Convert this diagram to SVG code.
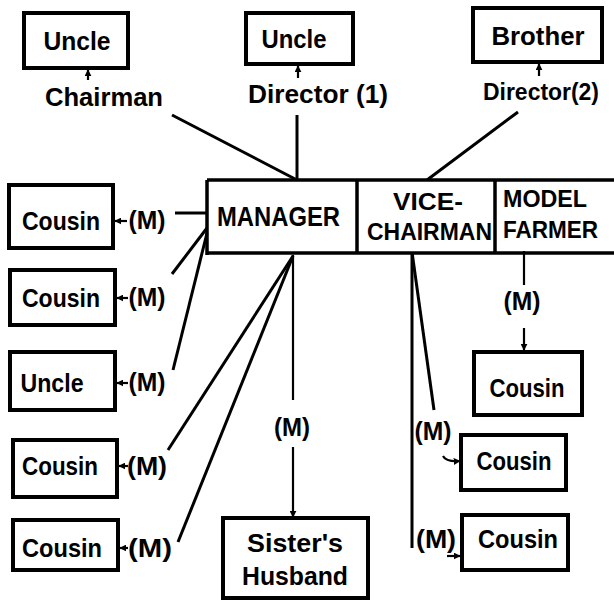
<svg xmlns="http://www.w3.org/2000/svg" width="614" height="601" viewBox="0 0 614 601">
<defs>
<marker id="ah" viewBox="0 0 10 10" refX="9" refY="5" markerWidth="7" markerHeight="7" markerUnits="userSpaceOnUse" orient="auto">
<path d="M0,0 L10,5 L0,10 z" fill="#000"/>
</marker>
</defs>
<style>
.box{fill:#fff;stroke:#000;stroke-width:4}
.bar{fill:none;stroke:#000;stroke-width:3.5}
.t{font-family:"Liberation Sans",Arial,sans-serif;font-weight:bold;font-size:26px;fill:#000;text-anchor:middle}
.tl{font-family:"Liberation Sans",Arial,sans-serif;font-weight:bold;font-size:23px;fill:#000}
.tm{font-size:27px}
.m{font-family:"Liberation Sans",Arial,sans-serif;font-weight:bold;font-size:25px;fill:#000;text-anchor:middle}
.ln{fill:none;stroke:#000;stroke-width:3}
.thin{fill:none;stroke:#000;stroke-width:2.2}
.ar{fill:none;stroke:#000;stroke-width:2.2;marker-end:url(#ah)}
</style>
<rect width="614" height="601" fill="#fff"/>

<g id="connectors">
<line class="ln" x1="172" y1="115" x2="297" y2="180"/>
<line class="ln" x1="297" y1="115" x2="297" y2="180"/>
<line class="ln" x1="518" y1="112" x2="427" y2="180"/>
<line class="ar" x1="88" y1="80" x2="88" y2="70"/>
<line class="ar" x1="298" y1="78" x2="298" y2="66"/>
<line class="ar" x1="539" y1="76" x2="539" y2="64"/>
<line class="ln" x1="175" y1="213" x2="207" y2="213"/>
<line class="ln" x1="172" y1="274" x2="207" y2="228"/>
<line class="ln" x1="173" y1="370" x2="207" y2="233"/>
<line class="ln" x1="168" y1="450" x2="293" y2="256"/>
<line class="ln" x1="178" y1="542" x2="293" y2="256"/>
<line class="ar" x1="127" y1="221" x2="115" y2="221"/>
<line class="ar" x1="128" y1="298" x2="117" y2="298"/>
<line class="ar" x1="128" y1="383" x2="117" y2="383"/>
<line class="ar" x1="128" y1="466" x2="119" y2="466"/>
<line class="ar" x1="128" y1="548" x2="120" y2="548"/>
<line class="thin" x1="293" y1="255" x2="293" y2="400"/>
<line class="ar" x1="293" y1="447" x2="293" y2="517"/>
<line class="thin" x1="524" y1="251" x2="524" y2="285"/>
<line class="ar" x1="524" y1="328" x2="524" y2="350"/>
<line class="ln" x1="412" y1="252" x2="412" y2="548"/>
<line class="ln" x1="412" y1="252" x2="434" y2="410"/>
<path class="ar" d="M443,456 Q446,462 460,461"/>
<path class="ar" d="M447,556 L460,556"/>
</g>

<g id="uncle-chairman">
<rect class="box" x="24" y="13" width="104" height="55"/>
<text class="t" x="77" y="50" textLength="67" lengthAdjust="spacingAndGlyphs">Uncle</text>
<text class="t" x="104" y="106" textLength="118" lengthAdjust="spacingAndGlyphs">Chairman</text>
</g>
<g id="uncle-director1">
<rect class="box" x="246" y="13" width="107" height="51"/>
<text class="t" x="294" y="48" textLength="65" lengthAdjust="spacingAndGlyphs">Uncle</text>
<text class="t" x="318" y="103" textLength="140" lengthAdjust="spacingAndGlyphs">Director (1)</text>
</g>
<g id="brother-director2">
<rect class="box" x="473" y="8" width="129" height="54"/>
<text class="t" x="538" y="45" textLength="93" lengthAdjust="spacingAndGlyphs">Brother</text>
<text class="t" x="541" y="100" style="font-size:24px" textLength="116" lengthAdjust="spacingAndGlyphs">Director(2)</text>
</g>

<g id="positions">
<path class="bar" d="M207,180 H614 M207,253 H614 M207,180 V255 M357,180 V252 M495,180 V252"/>
<text class="tl tm" x="217" y="226" textLength="123" lengthAdjust="spacingAndGlyphs">MANAGER</text>
<text class="tl" x="393" y="210" textLength="70" lengthAdjust="spacingAndGlyphs">VICE-</text>
<text class="tl" x="367" y="240" textLength="125" lengthAdjust="spacingAndGlyphs">CHAIRMAN</text>
<text class="tl" x="503" y="207" textLength="84" lengthAdjust="spacingAndGlyphs">MODEL</text>
<text class="tl" x="503" y="238" textLength="95" lengthAdjust="spacingAndGlyphs">FARMER</text>
</g>

<g id="cousin1">
<rect class="box" x="9" y="185" width="104" height="63"/>
<text class="t" x="61" y="230" textLength="78" lengthAdjust="spacingAndGlyphs">Cousin</text>
<text class="m" x="147" y="229" textLength="37" lengthAdjust="spacingAndGlyphs">(M)</text>
</g>
<g id="cousin2">
<rect class="box" x="10" y="270" width="105" height="55"/>
<text class="t" x="61" y="307" textLength="78" lengthAdjust="spacingAndGlyphs">Cousin</text>
<text class="m" x="147" y="306" textLength="37" lengthAdjust="spacingAndGlyphs">(M)</text>
</g>
<g id="uncle3">
<rect class="box" x="10" y="352" width="105" height="58"/>
<text class="t" x="52" y="392" textLength="63" lengthAdjust="spacingAndGlyphs">Uncle</text>
<text class="m" x="147" y="391" textLength="37" lengthAdjust="spacingAndGlyphs">(M)</text>
</g>
<g id="cousin4">
<rect class="box" x="13" y="440" width="104" height="57"/>
<text class="t" x="60" y="475" textLength="76" lengthAdjust="spacingAndGlyphs">Cousin</text>
<text class="m" x="147" y="475" textLength="40" lengthAdjust="spacingAndGlyphs">(M)</text>
</g>
<g id="cousin5">
<rect class="box" x="13" y="520" width="105" height="50"/>
<text class="t" x="62" y="557" textLength="80" lengthAdjust="spacingAndGlyphs">Cousin</text>
<text class="m" x="150" y="557" textLength="44" lengthAdjust="spacingAndGlyphs">(M)</text>
</g>
<g id="sisters-husband">
<rect class="box" x="223" y="518" width="145" height="80"/>
<text class="m" x="292" y="436" textLength="36" lengthAdjust="spacingAndGlyphs">(M)</text>
<text class="t" x="295" y="552" textLength="96" lengthAdjust="spacingAndGlyphs">Sister's</text>
<text class="t" x="295" y="585" textLength="106" lengthAdjust="spacingAndGlyphs">Husband</text>
</g>
<g id="cousin-a">
<rect class="box" x="474" y="352" width="108" height="63"/>
<text class="m" x="522" y="310" textLength="37" lengthAdjust="spacingAndGlyphs">(M)</text>
<text class="t" x="527" y="397" textLength="75" lengthAdjust="spacingAndGlyphs">Cousin</text>
</g>
<g id="cousin-b">
<rect class="box" x="461" y="435" width="105" height="55"/>
<text class="m" x="433" y="440" textLength="37" lengthAdjust="spacingAndGlyphs">(M)</text>
<text class="t" x="514" y="470" textLength="75" lengthAdjust="spacingAndGlyphs">Cousin</text>
</g>
<g id="cousin-c">
<rect class="box" x="462" y="515" width="106" height="55"/>
<text class="m" x="436" y="548" textLength="40" lengthAdjust="spacingAndGlyphs">(M)</text>
<text class="t" x="518" y="548" textLength="80" lengthAdjust="spacingAndGlyphs">Cousin</text>
</g>
</svg>
